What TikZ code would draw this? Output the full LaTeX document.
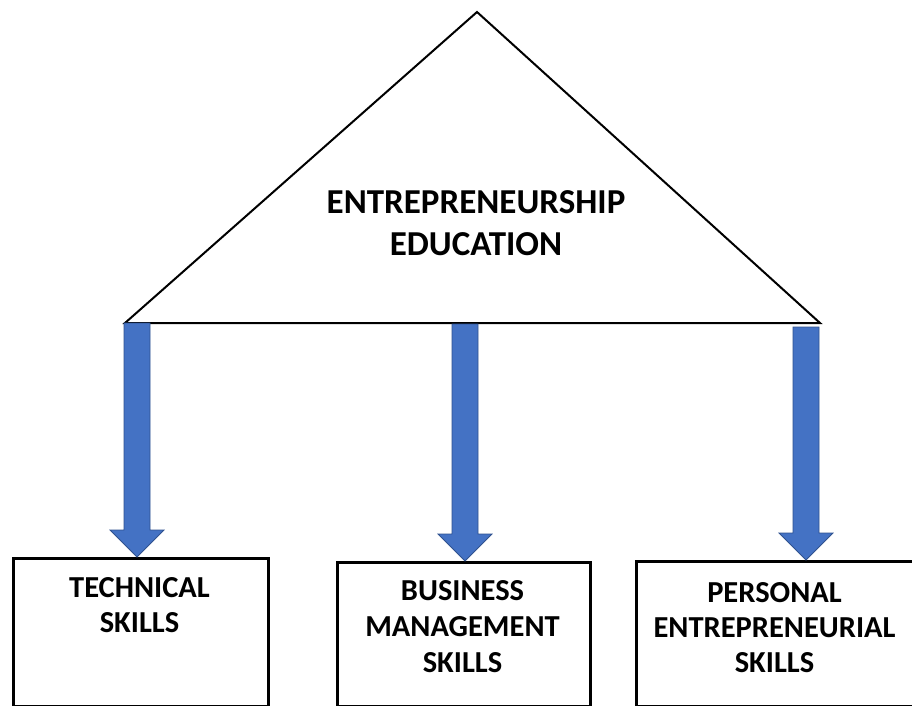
\documentclass[tikz,border=0pt]{standalone}
\usepackage{fontspec}
\setmainfont{Carlito}
\usetikzlibrary{calc}
\definecolor{arrowfill}{HTML}{4472C4}
\definecolor{arrowedge}{HTML}{2F528F}
\tikzset{
  tri/.style={draw=black, line width=2pt, line join=miter},
  skillbox/.style={draw=black, line width=2.6pt, rectangle, inner sep=0pt, anchor=north west},
  titletext/.style={font=\bfseries\fontsize{35}{42}\selectfont, align=center, inner sep=0pt},
  boxtext/.style={font=\bfseries\fontsize{30.5}{35.5}\selectfont, align=center, inner sep=0pt, anchor=base},
  fatarrow/.style={fill=arrowfill, draw=arrowedge, line width=0.8pt, line join=miter}
}
\newcommand\fatarrow[2]{%
  \path[fatarrow] let \p1=(#1), \p2=(#2) in
    (\x1-13pt,\y1) -- (\x1+13pt,\y1) -- (\x1+13pt,\y2+27pt) -- (\x1+27pt,\y2+27pt)
    -- (\x1,\y2) -- (\x1-27pt,\y2+27pt) -- (\x1-13pt,\y2+27pt) -- cycle;}
\begin{document}
\begin{tikzpicture}[x=1pt,y=-1pt]
\useasboundingbox (0,0) rectangle (912,706);
\fill[white] (0,0) rectangle (912,706);
% triangle
\coordinate (apex) at (477,12);
\coordinate (bl) at (125,323);
\coordinate (br) at (820,323);
\draw[tri] (bl) -- (apex) -- (br) -- cycle;
\node[titletext, anchor=base] (t1) at (476,213) {ENTREPRENEURSHIP};
\node[titletext, anchor=base] (t2) at (476,255) {EDUCATION};
% boxes
\node[skillbox, minimum width=255pt, minimum height=148pt] (b1) at (12,557) {};
\node[skillbox, minimum width=253pt, minimum height=144pt] (b2) at (336,561) {};
\node[skillbox, minimum width=280pt, minimum height=145pt] (b3) at (635,560) {};
% box texts
\node[boxtext] (l11) at (139.5,597) {TECHNICAL};
\node[boxtext] (l12) at (139.5,632) {SKILLS};
\node[boxtext] (l21) at (462.5,600) {BUSINESS};
\node[boxtext] (l22) at (462.5,636) {MANAGEMENT};
\node[boxtext] (l23) at (462.5,672) {SKILLS};
\node[boxtext] (l31) at (774.5,602) {PERSONAL};
\node[boxtext] (l32) at (774.5,637) {ENTREPRENEURIAL};
\node[boxtext] (l33) at (774.5,672) {SKILLS};
% arrow anchors
\coordinate (s1) at (137,323);
\coordinate (s2) at (465,324);
\coordinate (s3) at (806,327);
\coordinate (e1) at (137,557);
\coordinate (e2) at (465,561);
\coordinate (e3) at (806,560);
\fatarrow{s1}{e1}
\fatarrow{s2}{e2}
\fatarrow{s3}{e3}
\end{tikzpicture}
\end{document}
